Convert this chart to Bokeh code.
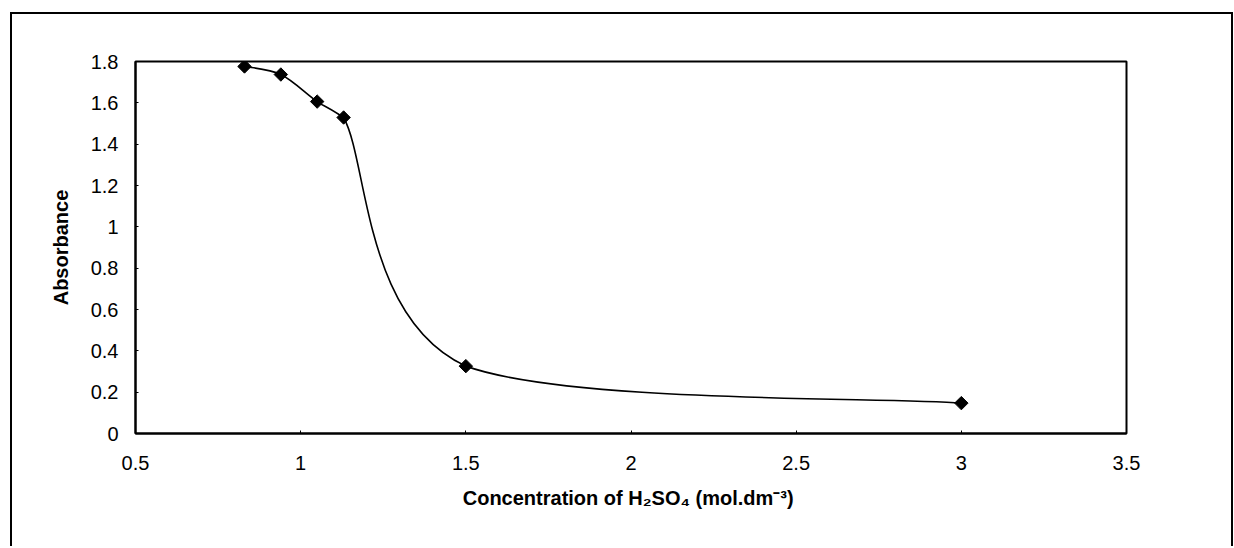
import numpy as np
from bokeh.plotting import figure
from bokeh.models import Range1d, FixedTicker
from bokeh.embed import file_html
from bokeh.resources import INLINE

# ---- data ----
conc = [0.83, 0.94, 1.05, 1.13, 1.50, 3.00]          # mol.dm-3
absorbance = [1.776, 1.737, 1.606, 1.529, 0.326, 0.147]

x_ticks = [0.5, 1.0, 1.5, 2.0, 2.5, 3.0, 3.5]
x_tick_labels = ["0.5", "1", "1.5", "2", "2.5", "3", "3.5"]
y_ticks = [0.0, 0.2, 0.4, 0.6, 0.8, 1.0, 1.2, 1.4, 1.6, 1.8]
y_tick_labels = ["0", "0.2", "0.4", "0.6", "0.8", "1", "1.2", "1.4", "1.6", "1.8"]

x_title = "Concentration of H\u2082SO\u2084  (mol.dm\u207b\u00b3)"
y_title = "Absorbance"

# ---- smoothed line (Catmull-Rom style Bezier segments, control points kept inside each segment's box) ----
P = np.column_stack([conc, absorbance])
Pe = np.vstack([P[0], P, P[-1]])
x0, y0, x1, y1, cx0, cy0, cx1, cy1 = [], [], [], [], [], [], [], []
for i in range(len(P) - 1):
    pm, pa, pb, pn = Pe[i], Pe[i + 1], Pe[i + 2], Pe[i + 3]
    lo = np.minimum(pa, pb)
    hi = np.maximum(pa, pb)
    c1 = np.clip(pa + (pb - pm) / 6.0, lo, hi)
    c2 = np.clip(pb - (pn - pa) / 6.0, lo, hi)
    x0.append(pa[0]); y0.append(pa[1]); x1.append(pb[0]); y1.append(pb[1])
    cx0.append(c1[0]); cy0.append(c1[1]); cx1.append(c2[0]); cy1.append(c2[1])

FONT = "Liberation Sans"

p = figure(width=1223, height=534,
           x_range=Range1d(0.5, 3.5), y_range=Range1d(0, 1.8),
           output_backend="svg", toolbar_location=None,
           min_border_left=123, min_border_right=109,
           min_border_top=47, min_border_bottom=115)

p.styles = {"margin-left": "10px", "margin-top": "12px",
            "border-left": "2px solid black", "border-top": "2px solid black",
            "border-right": "2px solid black"}

p.background_fill_color = "white"
p.border_fill_color = "white"
p.outline_line_color = "black"
p.outline_line_width = 2
p.xgrid.visible = False
p.ygrid.visible = False

p.bezier(x0=x0, y0=y0, x1=x1, y1=y1, cx0=cx0, cy0=cy0, cx1=cx1, cy1=cy1,
         line_color="black", line_width=1.6)
p.scatter(conc, absorbance, marker="square", angle=np.pi / 4, size=9.5,
          fill_color="black", line_color="black")

for ax in (p.xaxis[0], p.yaxis[0]):
    ax.axis_line_color = "black"
    ax.axis_line_width = 2
    ax.major_tick_in = 3
    ax.major_tick_out = 0
    ax.minor_tick_in = 0
    ax.minor_tick_out = 0
    ax.major_label_text_font = FONT
    ax.major_label_text_font_size = "20px"
    ax.major_label_text_color = "black"
    ax.axis_label_text_font = FONT
    ax.axis_label_text_font_size = "20px"
    ax.axis_label_text_font_style = "bold"
    ax.axis_label_text_color = "black"

p.xaxis.ticker = FixedTicker(ticks=x_ticks)
p.yaxis.ticker = FixedTicker(ticks=y_ticks)
p.xaxis.major_label_overrides = dict(zip(x_ticks, x_tick_labels))
p.yaxis.major_label_overrides = dict(zip(y_ticks, y_tick_labels))
p.xaxis.axis_label = x_title
p.yaxis.axis_label = y_title
p.xaxis.major_label_standoff = 22
p.yaxis.major_label_standoff = 17
p.xaxis.axis_label_standoff = 14
p.yaxis.axis_label_standoff = 16

open("out.html", "w").write(file_html(p, INLINE))
